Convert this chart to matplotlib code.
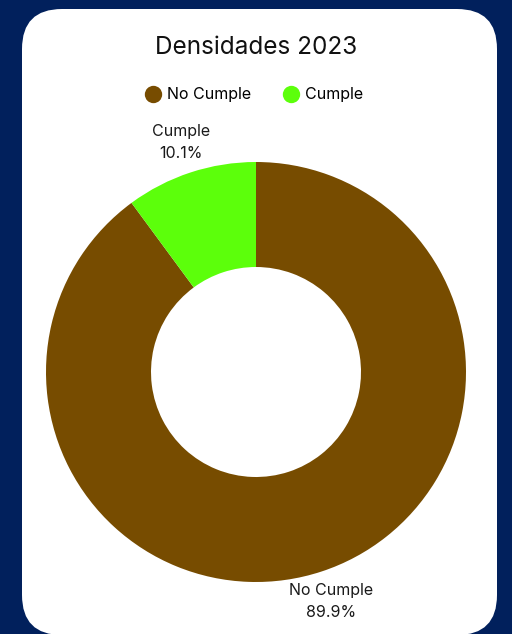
import matplotlib
matplotlib.use("Agg")
import matplotlib.pyplot as plt
from matplotlib.patches import FancyBboxPatch
from matplotlib.lines import Line2D

plt.rcParams['font.family'] = ['Inter', 'DejaVu Sans']

# data
categories = ['No Cumple', 'Cumple']
values = [89.9, 10.1]
colors = ['#774c00', '#5cff0b']
title = 'Densidades 2023'

W, H = 512, 634
fig = plt.figure(figsize=(W / 100, H / 100), dpi=100)
fig.patch.set_facecolor('#01205c')

# background axes in pixel units for the white rounded card
bg = fig.add_axes([0, 0, 1, 1])
bg.set_xlim(0, W)
bg.set_ylim(H, 0)
bg.axis('off')
bg.add_patch(FancyBboxPatch((22, 9), 475, 626,
                            boxstyle="round,pad=0,rounding_size=40",
                            facecolor='white', edgecolor='none'))

# donut axes: centre (256, 372) px, radius 210 px
cx, cy, r = 256, 372, 210
ax = fig.add_axes([(cx - r) / W, (H - cy - r) / H, 2 * r / W, 2 * r / H])
labels = [f"{c}\n{v}%" for c, v in zip(categories, values)]
wedges, texts = ax.pie(values, colors=colors, startangle=90, counterclock=False,
                       radius=1, labels=labels, labeldistance=1.15,
                       wedgeprops=dict(width=0.5, edgecolor='none'),
                       textprops=dict(fontsize=11.5, color='#1a1a1a'))
for t in texts:
    t.set_ha('center')
    t.set_va('center')
    t.set_linespacing(1.6)
ax.set_xlim(-1, 1)
ax.set_ylim(-1, 1)
ax.set_aspect('equal')
ax.axis('off')

fig.text(256 / W, 1 - 48 / H, title, ha='center', va='center',
         fontsize=17.5, color='#111111')

handles = [Line2D([], [], marker='o', linestyle='none', markersize=12.5,
                  markerfacecolor=c, markeredgecolor='none') for c in colors]
fig.legend(handles, categories, loc='center', bbox_to_anchor=(252 / W, 1 - 95 / H),
           ncol=2, frameon=False, fontsize=11.5, handletextpad=0.15,
           columnspacing=1.7, handlelength=1.5)

fig.savefig('out.png', dpi=100, facecolor=fig.get_facecolor())
